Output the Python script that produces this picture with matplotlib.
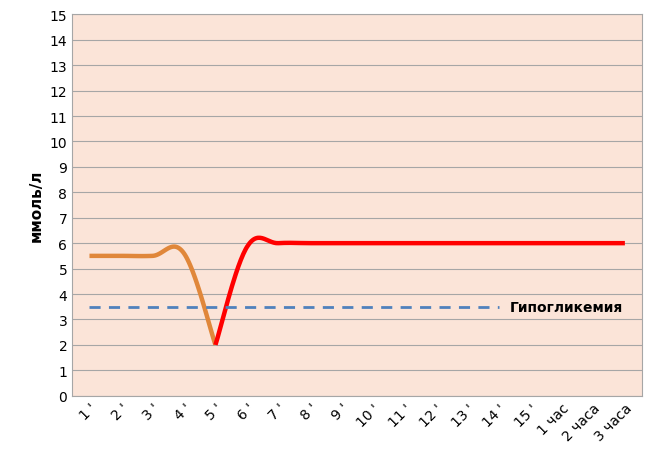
import numpy as np
import matplotlib
matplotlib.use("Agg")
import matplotlib.pyplot as plt

labels = ["1 '", "2 '", "3 '", "4 '", "5 '", "6 '", "7 '", "8 '", "9 '", "10 '", "11 '",
          "12 '", "13 '", "14 '", "15 '", "1 час", "2 часа", "3 часа"]
orange_vals = [5.5, 5.5, 5.5, 5.6, 2.0]
red_vals = [2.0, 5.85, 6.0, 6.0, 6.0, 6.0, 6.0, 6.0, 6.0, 6.0, 6.0, 6.0, 6.0, 6.0]
hypo_level = 3.5
hypo_end = 13  # index of 14'


def smooth(x, y, n=30, k=0.55):
    # cardinal spline with reduced tangents, close to Excel's smoothed lines
    x = np.asarray(x, float); y = np.asarray(y, float)
    px = np.concatenate([[x[0]], x, [x[-1]]])
    py = np.concatenate([[y[0]], y, [y[-1]]])
    t = np.linspace(0, 1, n)
    h00 = 2*t**3 - 3*t**2 + 1; h10 = t**3 - 2*t**2 + t
    h01 = -2*t**3 + 3*t**2; h11 = t**3 - t**2
    xs, ys = [], []
    for i in range(1, len(px) - 2):
        for arr, out in ((px, xs), (py, ys)):
            p0, p1, p2, p3 = arr[i-1:i+3]
            m1 = k*(p2 - p0); m2 = k*(p3 - p1)
            out.extend(h00*p1 + h10*m1 + h01*p2 + h11*m2)
    return xs, ys


fig = plt.figure(figsize=(6.5, 4.64), dpi=100)
ax = fig.add_axes([0.111, 0.145, 0.877, 0.822])
ax.set_facecolor("#fbe4d8")

xo, yo = smooth(range(5), orange_vals)
ax.plot(xo, yo, color="#e0873a", lw=3.2, solid_capstyle="butt")
xr, yr = smooth(range(4, 4 + len(red_vals)), red_vals)
ax.plot(xr, yr, color="#ff0000", lw=3.2, solid_capstyle="butt")
ax.plot([0, hypo_end], [hypo_level, hypo_level], color="#4f81bd", lw=2, ls=(0, (4, 3)))
ax.text(hypo_end + 0.35, hypo_level, "Гипогликемия", va="center", ha="left",
        fontsize=10, fontweight="bold", family="DejaVu Sans")

ax.set_xlim(-0.55, len(labels) - 0.45)
ax.set_ylim(0, 15)
ax.set_yticks(range(16))
ax.set_xticks(range(len(labels)))
ax.set_xticklabels(labels, rotation=45, ha="right", rotation_mode="anchor")
ax.tick_params(length=0, labelsize=10)
ax.grid(axis="y", color="#a6a6a6", lw=0.8)
ax.set_axisbelow(True)
for s in ax.spines.values():
    s.set_color("#a6a6a6")
ax.set_ylabel("ммоль/л", fontsize=11, fontweight="bold")

fig.savefig("out.png")
